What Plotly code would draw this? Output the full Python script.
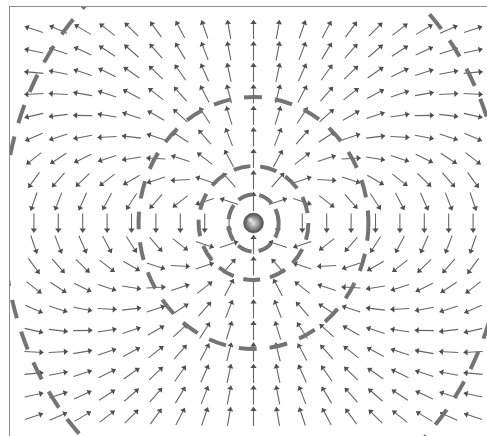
import math
import plotly.graph_objects as go

# grid of arrow positions (column / row indices, dipole at the centre)
grid_cols = list(range(-9, 10))
grid_rows = list(range(9, -10, -1))

# field direction at each grid point, degrees counter-clockwise from +x (row = grid_rows)
field_angle_deg = [
    [162, 156, 149, 142, 135, 126, 118, 109, 100, 90, 80, 71, 62, 54, 45, 38, 31, 24, 18],
    [168, 162, 155, 147, 139, 131, 121, 111, 101, 90, 79, 69, 59, 49, 41, 33, 25, 18, 12],
    [175, 169, 162, 154, 145, 136, 125, 114, 102, 90, 78, 66, 55, 44, 35, 26, 18, 11, 5],
    [-177, 177, 170, 162, 152, 142, 131, 118, 104, 90, 76, 62, 49, 38, 28, 18, 10, 3, -3],
    [-167, -173, 179, 171, 162, 150, 138, 123, 107, 90, 73, 57, 42, 30, 18, 9, 1, -7, -13],
    [-156, -162, -169, -177, 173, 162, 147, 131, 111, 90, 69, 49, 33, 18, 7, -3, -11, -18, -24],
    [-142, -147, -154, -162, -171, 177, 162, 142, 118, 90, 62, 38, 18, 3, -9, -18, -26, -33, -38],
    [-126, -131, -136, -142, -150, -162, -177, 162, 131, 90, 49, 18, -3, -18, -30, -38, -44, -49, -54],
    [-109, -111, -114, -118, -123, -131, -142, -162, 162, 90, 18, -18, -38, -49, -57, -62, -66, -69, -71],
    [-90, -90, -90, -90, -90, -90, -90, -90, -90, None, -90, -90, -90, -90, -90, -90, -90, -90, -90],
    [-71, -69, -66, -62, -57, -49, -38, -18, 18, 90, 162, -162, -142, -131, -123, -118, -114, -111, -109],
    [-54, -49, -44, -38, -30, -18, -3, 18, 49, 90, 131, 162, -177, -162, -150, -142, -136, -131, -126],
    [-38, -33, -26, -18, -9, 3, 18, 38, 62, 90, 118, 142, 162, 177, -171, -162, -154, -147, -142],
    [-24, -18, -11, -3, 7, 18, 33, 49, 69, 90, 111, 131, 147, 162, 173, -177, -169, -162, -156],
    [-13, -7, 1, 9, 18, 30, 42, 57, 73, 90, 107, 123, 138, 150, 162, 171, 179, -173, -167],
    [-3, 3, 10, 18, 28, 38, 49, 62, 76, 90, 104, 118, 131, 142, 152, 162, 170, 177, -177],
    [5, 11, 18, 26, 35, 44, 55, 66, 78, 90, 102, 114, 125, 136, 145, 154, 162, 169, 175],
    [12, 18, 25, 33, 41, 49, 59, 69, 79, 90, 101, 111, 121, 131, 139, 147, 155, 162, 168],
    [18, 24, 31, 38, 45, 54, 62, 71, 80, 90, 100, 109, 118, 126, 135, 142, 149, 156, 162],
]

# dashed rings round the charge: horizontal / vertical radii in grid units
ring_rx = [1.03, 2.25, 4.71, 10.25]
ring_ry = [1.33, 2.65, 5.86, 13.67]
ring_dash = ["15px,7px", "17px,10px", "18px,13px", "19px,14px"]

# sphere (charge) position
charge_x = [0]
charge_y = [0]

# ---- geometry of the picture (pixels per grid unit) ----
W, H = 487, 436
PX_X, PX_Y = 24.4, 21.5
ML, MT = 10, 7
CX_PIX, CY_PIX = 253.5, 223.0
x_range = [(ML - CX_PIX) / PX_X, (W - CX_PIX) / PX_X]
y_range = [(CY_PIX - H) / PX_Y, (CY_PIX - MT) / PX_Y]
ARROW_PX = 19.0
HEAD_BACK_PX = 2.5

shaft_x, shaft_y = [], []
head_x, head_y, head_ang = [], [], []
for r, j in enumerate(grid_rows):
    for c, i in enumerate(grid_cols):
        a = field_angle_deg[r][c]
        if a is None:
            continue
        ca, sa = math.cos(math.radians(a)), math.sin(math.radians(a))
        hx, hy = ARROW_PX / 2 * ca / PX_X, ARROW_PX / 2 * sa / PX_Y
        shaft_x += [i - hx, i + hx, None]
        shaft_y += [j - hy, j + hy, None]
        bx = (ARROW_PX / 2 - HEAD_BACK_PX) * ca / PX_X
        by = (ARROW_PX / 2 - HEAD_BACK_PX) * sa / PX_Y
        head_x.append(i + bx)
        head_y.append(j + by)
        head_ang.append(90 - a)

fig = go.Figure()
fig.add_trace(go.Scatter(
    x=shaft_x, y=shaft_y, mode="lines",
    line=dict(color="#666666", width=1.1),
    hoverinfo="skip", showlegend=False))
fig.add_trace(go.Scatter(
    x=head_x, y=head_y, mode="markers",
    marker=dict(symbol="triangle-up", size=5.5, color="#505050",
                angle=head_ang, line=dict(width=0)),
    hoverinfo="skip", showlegend=False))

for rx, ry, d in zip(ring_rx, ring_ry, ring_dash):
    fig.add_shape(type="circle", xref="x", yref="y",
                  x0=charge_x[0] - rx, x1=charge_x[0] + rx,
                  y0=charge_y[0] - ry, y1=charge_y[0] + ry,
                  line=dict(color="#747474", width=4, dash=d), layer="above")

fig.add_trace(go.Scatter(
    x=charge_x, y=charge_y, mode="markers",
    marker=dict(size=20, color="#4a4a4a",
                gradient=dict(type="radial", color="#e6e6e6"),
                line=dict(width=0.5, color="#555555")),
    hoverinfo="skip", showlegend=False))
# soft highlight on the upper-left of the sphere
fig.add_trace(go.Scatter(
    x=[charge_x[0] - 3 / PX_X], y=[charge_y[0] + 3 / PX_Y], mode="markers",
    marker=dict(size=7, color="rgba(255,255,255,0)",
                gradient=dict(type="radial", color="rgba(255,255,255,0.85)"),
                line=dict(width=0)),
    hoverinfo="skip", showlegend=False))

fig.update_layout(
    width=W, height=H,
    margin=dict(l=ML, r=0, t=MT, b=0),
    paper_bgcolor="white", plot_bgcolor="white",
    xaxis=dict(range=x_range, showgrid=False, zeroline=False, showticklabels=False,
               ticks="", showline=True, side="top", linecolor="#8c8c8c", linewidth=1.5),
    yaxis=dict(range=y_range, showgrid=False, zeroline=False, showticklabels=False,
               ticks="", showline=True, side="left", linecolor="#8c8c8c", linewidth=1.5),
)
fig.write_html("out.html",
               config={"displayModeBar": False, "staticPlot": True},
               post_script="document.body.style.margin='0';document.body.style.overflow='hidden';")
